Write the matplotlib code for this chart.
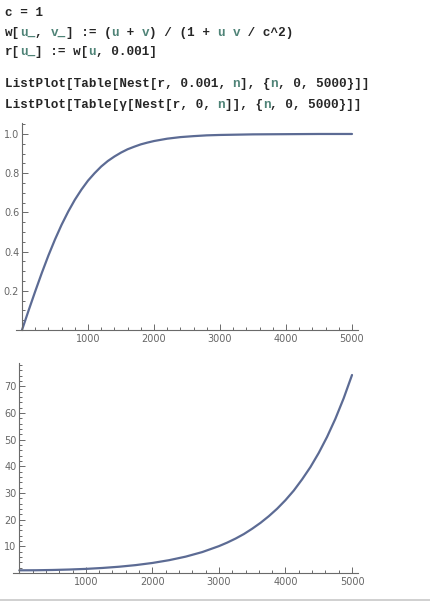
import matplotlib
matplotlib.use('Agg')
import matplotlib.pyplot as plt
from matplotlib.lines import Line2D
from matplotlib.ticker import MultipleLocator, FixedLocator

# values
n_top = [0, 100, 200, 300, 400, 500, 600, 700, 800, 900, 1000, 1100, 1200, 1300, 1400,
         1500, 1600, 1700, 1800, 1900, 2000, 2200, 2400, 2600, 2800, 3000, 3500, 4000,
         4500, 5000]
v_top = [0.0, 0.0997, 0.197, 0.291, 0.380, 0.462, 0.537, 0.604, 0.664, 0.716, 0.762,
         0.800, 0.834, 0.862, 0.885, 0.905, 0.922, 0.935, 0.947, 0.956, 0.964, 0.976,
         0.984, 0.989, 0.993, 0.995, 0.998, 0.999, 1.0, 1.0]
n_bot = [0, 250, 500, 750, 1000, 1250, 1500, 1750, 2000, 2250, 2500, 2750, 3000, 3125,
         3250, 3375, 3500, 3625, 3750, 3875, 4000, 4125, 4250, 4375, 4500, 4625, 4750,
         4875, 5000]
g_bot = [1.0, 1.03, 1.13, 1.30, 1.54, 1.89, 2.35, 2.96, 3.76, 4.80, 6.13, 7.85, 10.07,
         11.4, 12.9, 14.6, 16.6, 18.8, 21.3, 24.1, 27.3, 30.9, 35.1, 39.7, 45.0, 51.0,
         57.8, 65.5, 74.2]

x_ticks = [1000, 2000, 3000, 4000, 5000]
top_yticks = [0.2, 0.4, 0.6, 0.8, 1.0]
top_ylabels = ['0.2', '0.4', '0.6', '0.8', '1.0']
bot_yticks = [10, 20, 30, 40, 50, 60, 70]

# code cell lines, split in (text, colour) pieces
code_lines = [
    [('c = 1', 'k')],
    [('w[', 'k'), ('u_', 'g'), (', ', 'k'), ('v_', 'g'), ('] := (', 'k'), ('u', 'g'),
     (' + ', 'k'), ('v', 'g'), (') / (1 + ', 'k'), ('u', 'g'), (' ', 'k'), ('v', 'g'),
     (' / c^2)', 'k')],
    [('r[', 'k'), ('u_', 'g'), ('] := w[', 'k'), ('u', 'g'), (', 0.001]', 'k')],
    [('ListPlot[Table[Nest[r, 0.001, ', 'k'), ('n', 'g'), ('], {', 'k'), ('n', 'g'),
     (', 0, 5000}]]', 'k')],
    [('ListPlot[Table[γ[Nest[r, 0, ', 'k'), ('n', 'g'), (']], {', 'k'), ('n', 'g'),
     (', 0, 5000}]]', 'k')],
]
line_y = [12.5, 33, 52, 84, 105]

W, H = 431, 601
fig = plt.figure(figsize=(W / 100, H / 100), dpi=100)
fig.patch.set_facecolor('white')

colours = {'k': '#262626', 'g': '#4f8377'}
fsize = 9.1
char_w = 0.6 * fsize * 100 / 72  # monospace advance in px
for pieces, yy in zip(code_lines, line_y):
    col = 0
    for txt, c in pieces:
        fig.text((5 + col * char_w) / W, 1 - yy / H, txt, family='Liberation Mono',
                 weight='bold', size=fsize, color=colours[c], va='center', ha='left')
        col += len(txt)

line_col = '#5c6b94'
axis_col = '#6a6a6a'
label_col = '#666666'


def style_axes(ax, xlim, ylim, yticks, ylabels, yminor):
    ax.set_xlim(*xlim)
    ax.set_ylim(*ylim)
    for s in ['top', 'right']:
        ax.spines[s].set_visible(False)
    ax.spines['left'].set_position(('data', 0))
    for s in ['left', 'bottom']:
        ax.spines[s].set_color(axis_col)
        ax.spines[s].set_linewidth(0.8)
    ax.xaxis.set_major_locator(FixedLocator([0] + x_ticks))
    ax.set_xticklabels([''] + [str(t) for t in x_ticks])
    ax.xaxis.set_minor_locator(MultipleLocator(200))
    ax.yaxis.set_major_locator(FixedLocator(yticks))
    ax.set_yticklabels(ylabels)
    ax.yaxis.set_minor_locator(MultipleLocator(yminor))
    ax.tick_params(which='both', direction='in', color=axis_col, width=0.7,
                   labelcolor=label_col, labelsize=7)
    ax.tick_params(which='major', length=4.5, pad=3)
    ax.tick_params(which='minor', length=2.5)
    ax.tick_params(axis='y', pad=2)
    ax.patch.set_alpha(0)


ax1 = fig.add_axes([16 / W, 1 - 330 / H, 342 / W, 207 / H])
ax1.plot(n_top, v_top, color=line_col, lw=1.6, solid_capstyle='round', clip_on=False)
style_axes(ax1, (-91, 5091), (0, 1.056), top_yticks, top_ylabels, 0.05)

ax2 = fig.add_axes([13 / W, 1 - 573 / H, 345 / W, 210 / H])
ax2.plot(n_bot, g_bot, color=line_col, lw=1.6, solid_capstyle='round', clip_on=False)
style_axes(ax2, (-95, 5090), (0, 78.7), bot_yticks, [str(t) for t in bot_yticks], 2)

# cell bracket line at the bottom of the notebook
fig.add_artist(Line2D([0, 1], [1 - 600 / H, 1 - 600 / H], color='#c8c8c8', lw=1.2))

fig.savefig('out.png', dpi=100)
